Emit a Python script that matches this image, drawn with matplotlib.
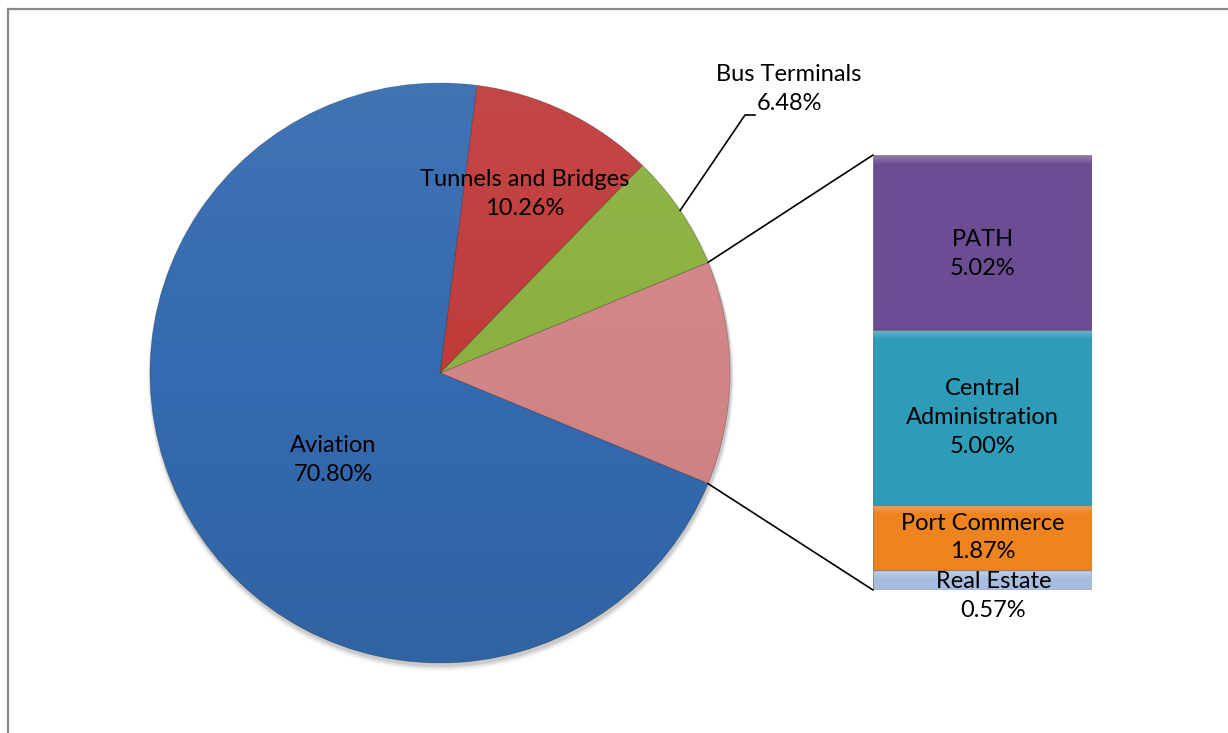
import numpy as np
import matplotlib
matplotlib.use('Agg')
import matplotlib.pyplot as plt
from matplotlib.patches import Circle, ConnectionPatch
from matplotlib.lines import Line2D

# ---- data ----
pie_labels = ['Tunnels and Bridges', 'Bus Terminals', 'Aviation']
pie_values = [10.26, 6.48, 70.80]
bar_labels = ['Real Estate', 'Port Commerce', 'Central\nAdministration', 'PATH']
bar_values = [0.57, 1.87, 5.00, 5.02]

pie_colors = {'Aviation': '#346aaf', 'Tunnels and Bridges': '#bf3b3a',
              'Bus Terminals': '#8bb03f', 'Other': '#d28586'}
bar_colors = ['#a6bce0', '#ee8420', '#2e9bb8', '#6c4d93']

plt.rcParams['font.family'] = ['Lato', 'DejaVu Sans']
FS = 17
LS = 1.45

fig = plt.figure(figsize=(12.28, 7.33), dpi=100)
fig.patch.set_facecolor('white')

# chart frame (only top and left edges are inside the picture)
fig.add_artist(Line2D([8 / 1228, 8 / 1228], [0, 724 / 733], color='#8a8a8a', lw=1.6,
                      transform=fig.transFigure))
fig.add_artist(Line2D([8 / 1228, 1], [724 / 733, 724 / 733], color='#8a8a8a', lw=1.6,
                      transform=fig.transFigure))

# ---- pie ----
ax = fig.add_axes([0, 0, 1, 1])
CX, CY, R = 440, 360, 290
other = sum(bar_values)
vals = [other, pie_values[1], pie_values[0], pie_values[2]]
names = ['Other', 'Bus Terminals', 'Tunnels and Bridges', 'Aviation']
start = -other / sum(vals) * 360 / 2

# soft shadow
for i, a in enumerate([0.10, 0.07, 0.04]):
    ax.add_patch(Circle((CX + 1, CY - 3 - i), R + 1 + i, color='black', alpha=a, lw=0, zorder=0))

wedges, _ = ax.pie(vals, colors=[pie_colors[n] for n in names], startangle=start,
                   counterclock=True, center=(CX, CY), radius=R, frame=True,
                   wedgeprops=dict(edgecolor=(0, 0, 0, 0.25), linewidth=0.6))
for w in wedges:
    w.set_zorder(1)

# vertical shading over the pie: lighter top, darker bottom
grad = np.zeros((256, 1, 4))
t = np.linspace(0, 1, 256)
grad[:, 0, :3] = np.where(t[:, None] > 0.5, 1.0, 0.0)
grad[:, 0, 3] = np.abs(t - 0.5) * 0.13
clip = Circle((CX, CY), R, transform=ax.transData)
im = ax.imshow(grad, extent=(CX - R, CX + R, CY - R, CY + R), origin='lower', aspect='auto',
               zorder=2, interpolation='bilinear')
im.set_clip_path(clip)

ax.set_xlim(0, 1228)
ax.set_ylim(0, 733)
ax.set_aspect('equal')
ax.axis('off')

pct = dict(zip(pie_labels, pie_values))
ax.text(333, 273, 'Aviation\n%.2f%%' % pct['Aviation'], ha='center', va='center',
        fontsize=FS, linespacing=LS, zorder=5)
ax.text(525, 539, 'Tunnels and Bridges\n%.2f%%' % pct['Tunnels and Bridges'], ha='center',
        va='center', fontsize=FS, linespacing=LS, zorder=5)
ax.text(789, 644, 'Bus Terminals\n%.2f%%' % pct['Bus Terminals'], ha='center', va='center',
        fontsize=FS, linespacing=LS, zorder=5)

# leader for Bus Terminals
wb = wedges[1]
mid = np.deg2rad((wb.theta1 + wb.theta2) / 2)
ex, ey = CX + R * np.cos(mid), CY + R * np.sin(mid)
ax.plot([ex, 745, 755], [ey, 618, 618], color='black', lw=1.2, zorder=5)

# ---- bar of pie ----
bax = fig.add_axes([873 / 1228, 143 / 733, 219 / 1228, 435 / 733])
bottoms = np.concatenate([[0], np.cumsum(bar_values)[:-1]])
bax.bar(0, bar_values, bottom=bottoms, width=1, align='edge', color=bar_colors,
        edgecolor=(0, 0, 0, 0.35), linewidth=0.8)
band = 8 / 435 * other
tops = bottoms + np.array(bar_values)
for k in range(6):
    h = band * (1 - k / 6)
    bax.bar(0, [h] * len(bar_values), bottom=tops - h, width=1, align='edge',
            color='white', alpha=0.05, linewidth=0)
bax.set_xlim(0, 1)
bax.set_ylim(0, other)
bax.axis('off')

for lab, v, b in zip(bar_labels, bar_values, bottoms):
    txt = '%s\n%.2f%%' % (lab, v)
    if v < 1:
        bax.annotate(txt, (0.55, b + v / 2), xytext=(0, -11.5), textcoords='offset points',
                     ha='center', va='center', fontsize=FS, linespacing=LS)
    elif lab == 'PATH':
        bax.annotate(txt, (0.5, b + v / 2), xytext=(0, -8), textcoords='offset points',
                     ha='center', va='center', fontsize=FS, linespacing=LS)
    else:
        bax.text(0.5, b + v / 2, txt, ha='center', va='center', fontsize=FS, linespacing=LS)

# connector lines from the "Other" slice to the bar
wo = wedges[0]
for ang, yb in [(wo.theta2, other), (wo.theta1, 0)]:
    a = np.deg2rad(ang)
    con = ConnectionPatch(xyA=(CX + R * np.cos(a), CY + R * np.sin(a)), coordsA=ax.transData,
                          xyB=(0, yb), coordsB=bax.transData, color='black', lw=1.2)
    fig.add_artist(con)

fig.savefig('out.png', dpi=100, facecolor='white')
